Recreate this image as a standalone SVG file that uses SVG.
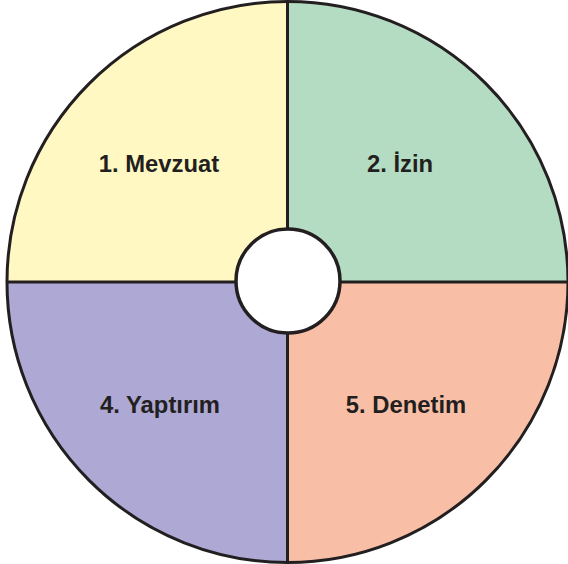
<svg xmlns="http://www.w3.org/2000/svg" width="568" height="564" viewBox="0 0 568 564">
<style>
.q{stroke:none}
.ln{stroke:#231f20;stroke-width:3;fill:none}
.t{font-family:"Liberation Sans",Arial,sans-serif;font-weight:bold;font-size:23.8px;fill:#231f20;text-anchor:middle}
</style>
<rect width="568" height="564" fill="#ffffff"/>
<g id="q1"><path class="q" d="M287.5 282 L7 282 A280.5 280.5 0 0 1 287.5 1.5 Z" fill="#fff8c2"/><text class="t" x="159" y="172">1. Mevzuat</text></g>
<g id="q2"><path class="q" d="M287.5 282 L287.5 1.5 A280.5 280.5 0 0 1 568 282 Z" fill="#b3dcc2"/><text class="t" x="400" y="172">2. İzin</text></g>
<g id="q4"><path class="q" d="M287.5 282 L287.5 562.5 A280.5 280.5 0 0 1 7 282 Z" fill="#ada8d4"/><text class="t" x="160" y="413">4. Yaptırım</text></g>
<g id="q5"><path class="q" d="M287.5 282 L568 282 A280.5 280.5 0 0 1 287.5 562.5 Z" fill="#f9bfa6"/><text class="t" x="406" y="413">5. Denetim</text></g>
<g id="connectors">
<circle class="ln" cx="287.5" cy="282" r="280.5"/>
<line class="ln" x1="287.5" y1="1.5" x2="287.5" y2="562.5"/>
<line class="ln" x1="7" y1="282" x2="568" y2="282"/>
</g>
<g id="hub"><circle cx="288" cy="281" r="52" fill="#ffffff" stroke="#231f20" stroke-width="3.5"/></g>
</svg>
